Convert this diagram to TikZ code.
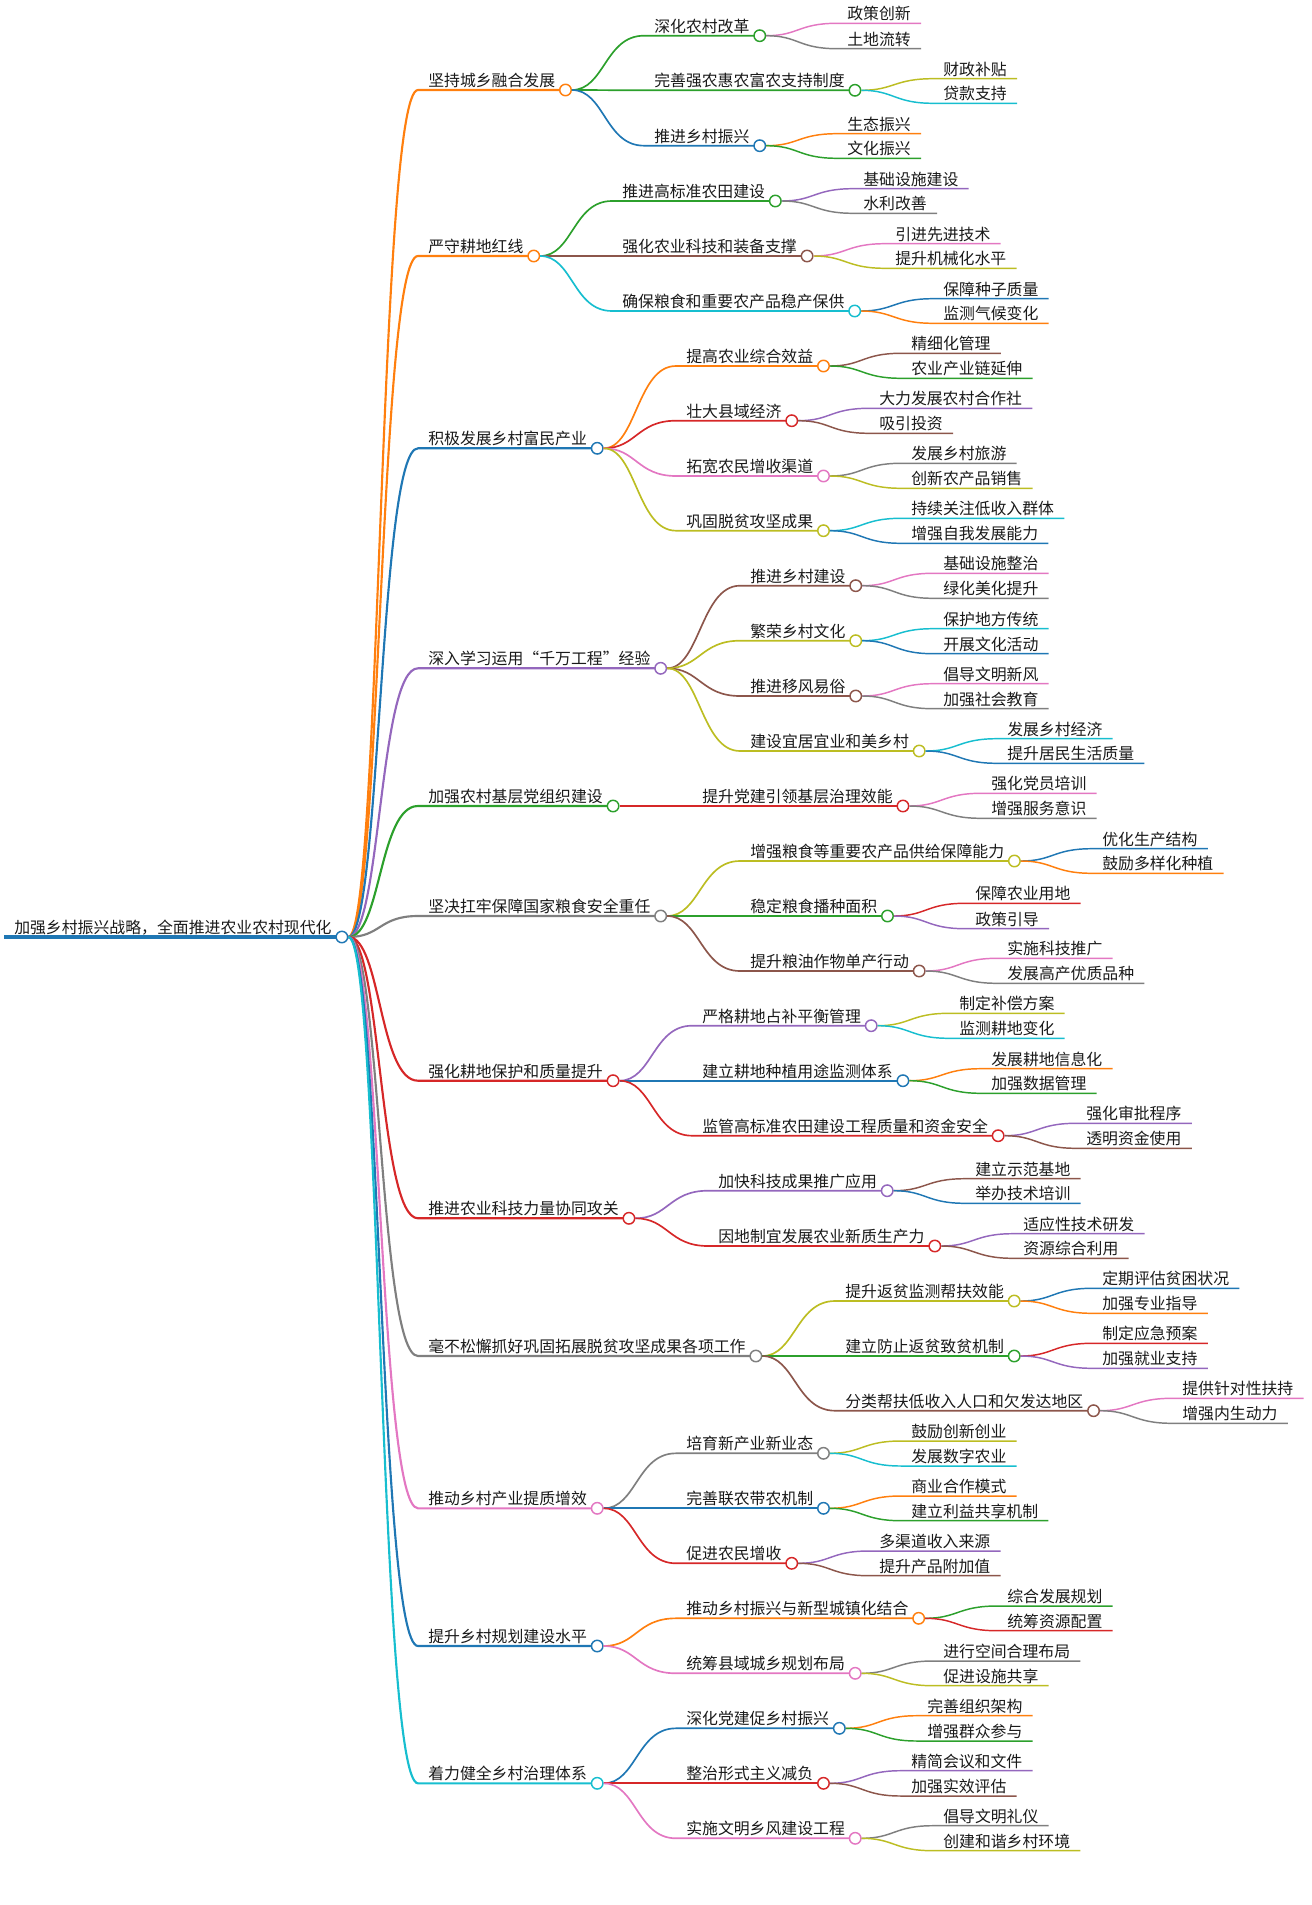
\documentclass[tikz,border=0pt]{standalone}
\usepackage{fontspec}
\setmainfont{Noto Sans CJK SC}

\definecolor{mmblue}{HTML}{1F77B4}
\definecolor{mmorange}{HTML}{FF7F0E}
\definecolor{mmgreen}{HTML}{2CA02C}
\definecolor{mmred}{HTML}{D62728}
\definecolor{mmpurple}{HTML}{9467BD}
\definecolor{mmbrown}{HTML}{8C564B}
\definecolor{mmpink}{HTML}{E377C2}
\definecolor{mmgray}{HTML}{7F7F7F}
\definecolor{mmolive}{HTML}{BCBD22}
\definecolor{mmcyan}{HTML}{17BECF}

\tikzset{
  topic/.style={anchor=south west, inner xsep=7.5pt, inner ysep=2.3pt, text depth=0pt,
    text=black!90, font=\fontsize{11.9pt}{14pt}\selectfont},
  dot/.style={circle, fill=white, line width=1.1pt, inner sep=0pt, minimum size=8.6pt},
  link/.style={to path={.. controls ([xshift=29.25pt]\tikztostart) and ([xshift=-29.25pt]\tikztotarget) .. (\tikztotarget)}},
  lv0/.style={line width=2.4pt},
  lv1/.style={line width=1.6pt, link},
  lv2/.style={line width=1.25pt, link},
  lv3/.style={line width=1.1pt, link},
}

\begin{document}
\begin{tikzpicture}[x=0.75pt,y=0.75pt,yscale=-1,xscale=1]
\useasboundingbox (0,0) rectangle (1312,1905);

% Root
\node[topic] (root) at (4,937) {加强乡村振兴战略，全面推进农业农村现代化};
\draw[lv0, mmblue] (root.south west) -- (root.south east);
\node[dot, draw=mmblue] (root-o) at (root.south east) {};

%Branch 1
\node[topic] (t1) at (418,90) {坚持城乡融合发展};
\draw[lv1, mmorange] (root-o) to (t1.south west) -- (t1.south east);
\node[dot, draw=mmorange] (t1-o) at (t1.south east) {};
\node[topic] (t1a) at (644,35.7) {深化农村改革};
\draw[lv2, mmgreen] (t1-o) to (t1a.south west) -- (t1a.south east);
\node[dot, draw=mmgreen] (t1a-o) at (t1a.south east) {};
\node[topic] (t1a1) at (837,23.3) {政策创新};
\draw[lv3, mmpink] (t1a-o) to (t1a1.south west) -- (t1a1.south east);
\node[topic] (t1a2) at (837,48.7) {土地流转};
\draw[lv3, mmgray] (t1a-o) to (t1a2.south west) -- (t1a2.south east);
\node[topic] (t1b) at (644,90.3) {完善强农惠农富农支持制度};
\draw[lv2, mmgreen] (t1-o) to (t1b.south west) -- (t1b.south east);
\node[dot, draw=mmgreen] (t1b-o) at (t1b.south east) {};
\node[topic] (t1b1) at (933,78.7) {财政补贴};
\draw[lv3, mmolive] (t1b-o) to (t1b1.south west) -- (t1b1.south east);
\node[topic] (t1b2) at (933,103.3) {贷款支持};
\draw[lv3, mmcyan] (t1b-o) to (t1b2.south west) -- (t1b2.south east);
\node[topic] (t1c) at (644,145.7) {推进乡村振兴};
\draw[lv2, mmblue] (t1-o) to (t1c.south west) -- (t1c.south east);
\node[dot, draw=mmblue] (t1c-o) at (t1c.south east) {};
\node[topic] (t1c1) at (837,133.7) {生态振兴};
\draw[lv3, mmorange] (t1c-o) to (t1c1.south west) -- (t1c1.south east);
\node[topic] (t1c2) at (837,158.3) {文化振兴};
\draw[lv3, mmgreen] (t1c-o) to (t1c2.south west) -- (t1c2.south east);

%Branch 2
\node[topic] (t2) at (418,256) {严守耕地红线};
\draw[lv1, mmorange] (root-o) to (t2.south west) -- (t2.south east);
\node[dot, draw=mmorange] (t2-o) at (t2.south east) {};
\node[topic] (t2a) at (612,201) {推进高标准农田建设};
\draw[lv2, mmgreen] (t2-o) to (t2a.south west) -- (t2a.south east);
\node[dot, draw=mmgreen] (t2a-o) at (t2a.south east) {};
\node[topic] (t2a1) at (853,188.7) {基础设施建设};
\draw[lv3, mmpurple] (t2a-o) to (t2a1.south west) -- (t2a1.south east);
\node[topic] (t2a2) at (853,213.3) {水利改善};
\draw[lv3, mmgray] (t2a-o) to (t2a2.south west) -- (t2a2.south east);
\node[topic] (t2b) at (612,256) {强化农业科技和装备支撑};
\draw[lv2, mmbrown] (t2-o) to (t2b.south west) -- (t2b.south east);
\node[dot, draw=mmbrown] (t2b-o) at (t2b.south east) {};
\node[topic] (t2b1) at (885,243.7) {引进先进技术};
\draw[lv3, mmpink] (t2b-o) to (t2b1.south west) -- (t2b1.south east);
\node[topic] (t2b2) at (885,268.3) {提升机械化水平};
\draw[lv3, mmolive] (t2b-o) to (t2b2.south west) -- (t2b2.south east);
\node[topic] (t2c) at (612,311) {确保粮食和重要农产品稳产保供};
\draw[lv2, mmcyan] (t2-o) to (t2c.south west) -- (t2c.south east);
\node[dot, draw=mmcyan] (t2c-o) at (t2c.south east) {};
\node[topic] (t2c1) at (933,298.7) {保障种子质量};
\draw[lv3, mmblue] (t2c-o) to (t2c1.south west) -- (t2c1.south east);
\node[topic] (t2c2) at (933,323.3) {监测气候变化};
\draw[lv3, mmorange] (t2c-o) to (t2c2.south west) -- (t2c2.south east);

%Branch 3
\node[topic] (t3) at (418,448.3) {积极发展乡村富民产业};
\draw[lv1, mmblue] (root-o) to (t3.south west) -- (t3.south east);
\node[dot, draw=mmblue] (t3-o) at (t3.south east) {};
\node[topic] (t3a) at (676,366) {提高农业综合效益};
\draw[lv2, mmorange] (t3-o) to (t3a.south west) -- (t3a.south east);
\node[dot, draw=mmorange] (t3a-o) at (t3a.south east) {};
\node[topic] (t3a1) at (901,353.3) {精细化管理};
\draw[lv3, mmbrown] (t3a-o) to (t3a1.south west) -- (t3a1.south east);
\node[topic] (t3a2) at (901,378.3) {农业产业链延伸};
\draw[lv3, mmgreen] (t3a-o) to (t3a2.south west) -- (t3a2.south east);
\node[topic] (t3b) at (676,420.7) {壮大县域经济};
\draw[lv2, mmred] (t3-o) to (t3b.south west) -- (t3b.south east);
\node[dot, draw=mmred] (t3b-o) at (t3b.south east) {};
\node[topic] (t3b1) at (869,408.3) {大力发展农村合作社};
\draw[lv3, mmpurple] (t3b-o) to (t3b1.south west) -- (t3b1.south east);
\node[topic] (t3b2) at (869,433.3) {吸引投资};
\draw[lv3, mmbrown] (t3b-o) to (t3b2.south west) -- (t3b2.south east);
\node[topic] (t3c) at (676,476) {拓宽农民增收渠道};
\draw[lv2, mmpink] (t3-o) to (t3c.south west) -- (t3c.south east);
\node[dot, draw=mmpink] (t3c-o) at (t3c.south east) {};
\node[topic] (t3c1) at (901,463.3) {发展乡村旅游};
\draw[lv3, mmgray] (t3c-o) to (t3c1.south west) -- (t3c1.south east);
\node[topic] (t3c2) at (901,488.3) {创新农产品销售};
\draw[lv3, mmolive] (t3c-o) to (t3c2.south west) -- (t3c2.south east);
\node[topic] (t3d) at (676,530.7) {巩固脱贫攻坚成果};
\draw[lv2, mmolive] (t3-o) to (t3d.south west) -- (t3d.south east);
\node[dot, draw=mmolive] (t3d-o) at (t3d.south east) {};
\node[topic] (t3d1) at (901,518.3) {持续关注低收入群体};
\draw[lv3, mmcyan] (t3d-o) to (t3d1.south west) -- (t3d1.south east);
\node[topic] (t3d2) at (901,543.3) {增强自我发展能力};
\draw[lv3, mmblue] (t3d-o) to (t3d2.south west) -- (t3d2.south east);

%Branch 4
\node[topic] (t4) at (418,668.3) {深入学习运用“千万工程”经验};
\draw[lv1, mmpurple] (root-o) to (t4.south west) -- (t4.south east);
\node[dot, draw=mmpurple] (t4-o) at (t4.south east) {};
\node[topic] (t4a) at (740,585.7) {推进乡村建设};
\draw[lv2, mmbrown] (t4-o) to (t4a.south west) -- (t4a.south east);
\node[dot, draw=mmbrown] (t4a-o) at (t4a.south east) {};
\node[topic] (t4a1) at (933,573.3) {基础设施整治};
\draw[lv3, mmpink] (t4a-o) to (t4a1.south west) -- (t4a1.south east);
\node[topic] (t4a2) at (933,598.3) {绿化美化提升};
\draw[lv3, mmgray] (t4a-o) to (t4a2.south west) -- (t4a2.south east);
\node[topic] (t4b) at (740,640.7) {繁荣乡村文化};
\draw[lv2, mmolive] (t4-o) to (t4b.south west) -- (t4b.south east);
\node[dot, draw=mmolive] (t4b-o) at (t4b.south east) {};
\node[topic] (t4b1) at (933,628.7) {保护地方传统};
\draw[lv3, mmcyan] (t4b-o) to (t4b1.south west) -- (t4b1.south east);
\node[topic] (t4b2) at (933,653.7) {开展文化活动};
\draw[lv3, mmblue] (t4b-o) to (t4b2.south west) -- (t4b2.south east);
\node[topic] (t4c) at (740,696) {推进移风易俗};
\draw[lv2, mmbrown] (t4-o) to (t4c.south west) -- (t4c.south east);
\node[dot, draw=mmbrown] (t4c-o) at (t4c.south east) {};
\node[topic] (t4c1) at (933,683.7) {倡导文明新风};
\draw[lv3, mmpink] (t4c-o) to (t4c1.south west) -- (t4c1.south east);
\node[topic] (t4c2) at (933,708.7) {加强社会教育};
\draw[lv3, mmgray] (t4c-o) to (t4c2.south west) -- (t4c2.south east);
\node[topic] (t4d) at (740,751) {建设宜居宜业和美乡村};
\draw[lv2, mmolive] (t4-o) to (t4d.south west) -- (t4d.south east);
\node[dot, draw=mmolive] (t4d-o) at (t4d.south east) {};
\node[topic] (t4d1) at (997,738.7) {发展乡村经济};
\draw[lv3, mmcyan] (t4d-o) to (t4d1.south west) -- (t4d1.south east);
\node[topic] (t4d2) at (997,763.3) {提升居民生活质量};
\draw[lv3, mmblue] (t4d-o) to (t4d2.south west) -- (t4d2.south east);

%Branch 5
\node[topic] (t5) at (418,806) {加强农村基层党组织建设};
\draw[lv1, mmgreen] (root-o) to (t5.south west) -- (t5.south east);
\node[dot, draw=mmgreen] (t5-o) at (t5.south east) {};
\node[topic] (t5a) at (692,806) {提升党建引领基层治理效能};
\draw[lv2, mmred] (t5-o) to (t5a.south west) -- (t5a.south east);
\node[dot, draw=mmred] (t5a-o) at (t5a.south east) {};
\node[topic] (t5a1) at (981,793.3) {强化党员培训};
\draw[lv3, mmpink] (t5a-o) to (t5a1.south west) -- (t5a1.south east);
\node[topic] (t5a2) at (981,818.3) {增强服务意识};
\draw[lv3, mmgray] (t5a-o) to (t5a2.south west) -- (t5a2.south east);

%Branch 6
\node[topic] (t6) at (418,916) {坚决扛牢保障国家粮食安全重任};
\draw[lv1, mmgray] (root-o) to (t6.south west) -- (t6.south east);
\node[dot, draw=mmgray] (t6-o) at (t6.south east) {};
\node[topic] (t6a) at (740,861) {增强粮食等重要农产品供给保障能力};
\draw[lv2, mmolive] (t6-o) to (t6a.south west) -- (t6a.south east);
\node[dot, draw=mmolive] (t6a-o) at (t6a.south east) {};
\node[topic] (t6a1) at (1092,848.7) {优化生产结构};
\draw[lv3, mmblue] (t6a-o) to (t6a1.south west) -- (t6a1.south east);
\node[topic] (t6a2) at (1092,873.3) {鼓励多样化种植};
\draw[lv3, mmorange] (t6a-o) to (t6a2.south west) -- (t6a2.south east);
\node[topic] (t6b) at (740,916) {稳定粮食播种面积};
\draw[lv2, mmgreen] (t6-o) to (t6b.south west) -- (t6b.south east);
\node[dot, draw=mmgreen] (t6b-o) at (t6b.south east) {};
\node[topic] (t6b1) at (965,903.3) {保障农业用地};
\draw[lv3, mmred] (t6b-o) to (t6b1.south west) -- (t6b1.south east);
\node[topic] (t6b2) at (965,928.7) {政策引导};
\draw[lv3, mmpurple] (t6b-o) to (t6b2.south west) -- (t6b2.south east);
\node[topic] (t6c) at (740,971) {提升粮油作物单产行动};
\draw[lv2, mmbrown] (t6-o) to (t6c.south west) -- (t6c.south east);
\node[dot, draw=mmbrown] (t6c-o) at (t6c.south east) {};
\node[topic] (t6c1) at (997,958.3) {实施科技推广};
\draw[lv3, mmpink] (t6c-o) to (t6c1.south west) -- (t6c1.south east);
\node[topic] (t6c2) at (997,983.3) {发展高产优质品种};
\draw[lv3, mmgray] (t6c-o) to (t6c2.south west) -- (t6c2.south east);

%Branch 7
\node[topic] (t7) at (418,1080.7) {强化耕地保护和质量提升};
\draw[lv1, mmred] (root-o) to (t7.south west) -- (t7.south east);
\node[dot, draw=mmred] (t7-o) at (t7.south east) {};
\node[topic] (t7a) at (692,1025.7) {严格耕地占补平衡管理};
\draw[lv2, mmpurple] (t7-o) to (t7a.south west) -- (t7a.south east);
\node[dot, draw=mmpurple] (t7a-o) at (t7a.south east) {};
\node[topic] (t7a1) at (949,1013.3) {制定补偿方案};
\draw[lv3, mmolive] (t7a-o) to (t7a1.south west) -- (t7a1.south east);
\node[topic] (t7a2) at (949,1038.3) {监测耕地变化};
\draw[lv3, mmcyan] (t7a-o) to (t7a2.south west) -- (t7a2.south east);
\node[topic] (t7b) at (692,1080.7) {建立耕地种植用途监测体系};
\draw[lv2, mmblue] (t7-o) to (t7b.south west) -- (t7b.south east);
\node[dot, draw=mmblue] (t7b-o) at (t7b.south east) {};
\node[topic] (t7b1) at (981,1068.7) {发展耕地信息化};
\draw[lv3, mmorange] (t7b-o) to (t7b1.south west) -- (t7b1.south east);
\node[topic] (t7b2) at (981,1093.3) {加强数据管理};
\draw[lv3, mmgreen] (t7b-o) to (t7b2.south west) -- (t7b2.south east);
\node[topic] (t7c) at (692,1135.7) {监管高标准农田建设工程质量和资金安全};
\draw[lv2, mmred] (t7-o) to (t7c.south west) -- (t7c.south east);
\node[dot, draw=mmred] (t7c-o) at (t7c.south east) {};
\node[topic] (t7c1) at (1076,1123.3) {强化审批程序};
\draw[lv3, mmpurple] (t7c-o) to (t7c1.south west) -- (t7c1.south east);
\node[topic] (t7c2) at (1076,1148.3) {透明资金使用};
\draw[lv3, mmbrown] (t7c-o) to (t7c2.south west) -- (t7c2.south east);

%Branch 8
\node[topic] (t8) at (418,1218.3) {推进农业科技力量协同攻关};
\draw[lv1, mmred] (root-o) to (t8.south west) -- (t8.south east);
\node[dot, draw=mmred] (t8-o) at (t8.south east) {};
\node[topic] (t8a) at (708,1190.7) {加快科技成果推广应用};
\draw[lv2, mmpurple] (t8-o) to (t8a.south west) -- (t8a.south east);
\node[dot, draw=mmpurple] (t8a-o) at (t8a.south east) {};
\node[topic] (t8a1) at (965,1178.7) {建立示范基地};
\draw[lv3, mmbrown] (t8a-o) to (t8a1.south west) -- (t8a1.south east);
\node[topic] (t8a2) at (965,1203.3) {举办技术培训};
\draw[lv3, mmblue] (t8a-o) to (t8a2.south west) -- (t8a2.south east);
\node[topic] (t8b) at (708,1246) {因地制宜发展农业新质生产力};
\draw[lv2, mmred] (t8-o) to (t8b.south west) -- (t8b.south east);
\node[dot, draw=mmred] (t8b-o) at (t8b.south east) {};
\node[topic] (t8b1) at (1013,1233.7) {适应性技术研发};
\draw[lv3, mmpurple] (t8b-o) to (t8b1.south west) -- (t8b1.south east);
\node[topic] (t8b2) at (1013,1258.3) {资源综合利用};
\draw[lv3, mmbrown] (t8b-o) to (t8b2.south west) -- (t8b2.south east);

%Branch 9
\node[topic] (t9) at (418,1356) {毫不松懈抓好巩固拓展脱贫攻坚成果各项工作};
\draw[lv1, mmgray] (root-o) to (t9.south west) -- (t9.south east);
\node[dot, draw=mmgray] (t9-o) at (t9.south east) {};
\node[topic] (t9a) at (835,1301) {提升返贫监测帮扶效能};
\draw[lv2, mmolive] (t9-o) to (t9a.south west) -- (t9a.south east);
\node[dot, draw=mmolive] (t9a-o) at (t9a.south east) {};
\node[topic] (t9a1) at (1092,1288.3) {定期评估贫困状况};
\draw[lv3, mmblue] (t9a-o) to (t9a1.south west) -- (t9a1.south east);
\node[topic] (t9a2) at (1092,1313.3) {加强专业指导};
\draw[lv3, mmorange] (t9a-o) to (t9a2.south west) -- (t9a2.south east);
\node[topic] (t9b) at (835,1356) {建立防止返贫致贫机制};
\draw[lv2, mmgreen] (t9-o) to (t9b.south west) -- (t9b.south east);
\node[dot, draw=mmgreen] (t9b-o) at (t9b.south east) {};
\node[topic] (t9b1) at (1092,1343.3) {制定应急预案};
\draw[lv3, mmred] (t9b-o) to (t9b1.south west) -- (t9b1.south east);
\node[topic] (t9b2) at (1092,1368.3) {加强就业支持};
\draw[lv3, mmpurple] (t9b-o) to (t9b2.south west) -- (t9b2.south east);
\node[topic] (t9c) at (835,1410.7) {分类帮扶低收入人口和欠发达地区};
\draw[lv2, mmbrown] (t9-o) to (t9c.south west) -- (t9c.south east);
\node[dot, draw=mmbrown] (t9c-o) at (t9c.south east) {};
\node[topic] (t9c1) at (1172,1398.3) {提供针对性扶持};
\draw[lv3, mmpink] (t9c-o) to (t9c1.south west) -- (t9c1.south east);
\node[topic] (t9c2) at (1172,1423.3) {增强内生动力};
\draw[lv3, mmgray] (t9c-o) to (t9c2.south west) -- (t9c2.south east);

%Branch 10
\node[topic] (t10) at (418,1508.3) {推动乡村产业提质增效};
\draw[lv1, mmpink] (root-o) to (t10.south west) -- (t10.south east);
\node[dot, draw=mmpink] (t10-o) at (t10.south east) {};
\node[topic] (t10a) at (676,1453.3) {培育新产业新业态};
\draw[lv2, mmgray] (t10-o) to (t10a.south west) -- (t10a.south east);
\node[dot, draw=mmgray] (t10a-o) at (t10a.south east) {};
\node[topic] (t10a1) at (901,1441) {鼓励创新创业};
\draw[lv3, mmolive] (t10a-o) to (t10a1.south west) -- (t10a1.south east);
\node[topic] (t10a2) at (901,1466) {发展数字农业};
\draw[lv3, mmcyan] (t10a-o) to (t10a2.south west) -- (t10a2.south east);
\node[topic] (t10b) at (676,1508.3) {完善联农带农机制};
\draw[lv2, mmblue] (t10-o) to (t10b.south west) -- (t10b.south east);
\node[dot, draw=mmblue] (t10b-o) at (t10b.south east) {};
\node[topic] (t10b1) at (901,1496) {商业合作模式};
\draw[lv3, mmorange] (t10b-o) to (t10b1.south west) -- (t10b1.south east);
\node[topic] (t10b2) at (901,1520.7) {建立利益共享机制};
\draw[lv3, mmgreen] (t10b-o) to (t10b2.south west) -- (t10b2.south east);
\node[topic] (t10c) at (676,1563.3) {促进农民增收};
\draw[lv2, mmred] (t10-o) to (t10c.south west) -- (t10c.south east);
\node[dot, draw=mmred] (t10c-o) at (t10c.south east) {};
\node[topic] (t10c1) at (869,1551) {多渠道收入来源};
\draw[lv3, mmpurple] (t10c-o) to (t10c1.south west) -- (t10c1.south east);
\node[topic] (t10c2) at (869,1575.7) {提升产品附加值};
\draw[lv3, mmbrown] (t10c-o) to (t10c2.south west) -- (t10c2.south east);

%Branch 11
\node[topic] (t11) at (418,1646) {提升乡村规划建设水平};
\draw[lv1, mmblue] (root-o) to (t11.south west) -- (t11.south east);
\node[dot, draw=mmblue] (t11-o) at (t11.south east) {};
\node[topic] (t11a) at (676,1618.3) {推动乡村振兴与新型城镇化结合};
\draw[lv2, mmorange] (t11-o) to (t11a.south west) -- (t11a.south east);
\node[dot, draw=mmorange] (t11a-o) at (t11a.south east) {};
\node[topic] (t11a1) at (997,1606) {综合发展规划};
\draw[lv3, mmgreen] (t11a-o) to (t11a1.south west) -- (t11a1.south east);
\node[topic] (t11a2) at (997,1630.7) {统筹资源配置};
\draw[lv3, mmred] (t11a-o) to (t11a2.south west) -- (t11a2.south east);
\node[topic] (t11b) at (676,1673.3) {统筹县域城乡规划布局};
\draw[lv2, mmpink] (t11-o) to (t11b.south west) -- (t11b.south east);
\node[dot, draw=mmpink] (t11b-o) at (t11b.south east) {};
\node[topic] (t11b1) at (933,1661) {进行空间合理布局};
\draw[lv3, mmgray] (t11b-o) to (t11b1.south west) -- (t11b1.south east);
\node[topic] (t11b2) at (933,1685.7) {促进设施共享};
\draw[lv3, mmolive] (t11b-o) to (t11b2.south west) -- (t11b2.south east);

%Branch 12
\node[topic] (t12) at (418,1783.3) {着力健全乡村治理体系};
\draw[lv1, mmcyan] (root-o) to (t12.south west) -- (t12.south east);
\node[dot, draw=mmcyan] (t12-o) at (t12.south east) {};
\node[topic] (t12a) at (676,1728.3) {深化党建促乡村振兴};
\draw[lv2, mmblue] (t12-o) to (t12a.south west) -- (t12a.south east);
\node[dot, draw=mmblue] (t12a-o) at (t12a.south east) {};
\node[topic] (t12a1) at (917,1715.7) {完善组织架构};
\draw[lv3, mmorange] (t12a-o) to (t12a1.south west) -- (t12a1.south east);
\node[topic] (t12a2) at (917,1741) {增强群众参与};
\draw[lv3, mmgreen] (t12a-o) to (t12a2.south west) -- (t12a2.south east);
\node[topic] (t12b) at (676,1783.3) {整治形式主义减负};
\draw[lv2, mmred] (t12-o) to (t12b.south west) -- (t12b.south east);
\node[dot, draw=mmred] (t12b-o) at (t12b.south east) {};
\node[topic] (t12b1) at (901,1770.7) {精简会议和文件};
\draw[lv3, mmpurple] (t12b-o) to (t12b1.south west) -- (t12b1.south east);
\node[topic] (t12b2) at (901,1796) {加强实效评估};
\draw[lv3, mmbrown] (t12b-o) to (t12b2.south west) -- (t12b2.south east);
\node[topic] (t12c) at (676,1838.3) {实施文明乡风建设工程};
\draw[lv2, mmpink] (t12-o) to (t12c.south west) -- (t12c.south east);
\node[dot, draw=mmpink] (t12c-o) at (t12c.south east) {};
\node[topic] (t12c1) at (933,1825.7) {倡导文明礼仪};
\draw[lv3, mmgray] (t12c-o) to (t12c1.south west) -- (t12c1.south east);
\node[topic] (t12c2) at (933,1850.7) {创建和谐乡村环境};
\draw[lv3, mmolive] (t12c-o) to (t12c2.south west) -- (t12c2.south east);

\end{tikzpicture}
\end{document}
